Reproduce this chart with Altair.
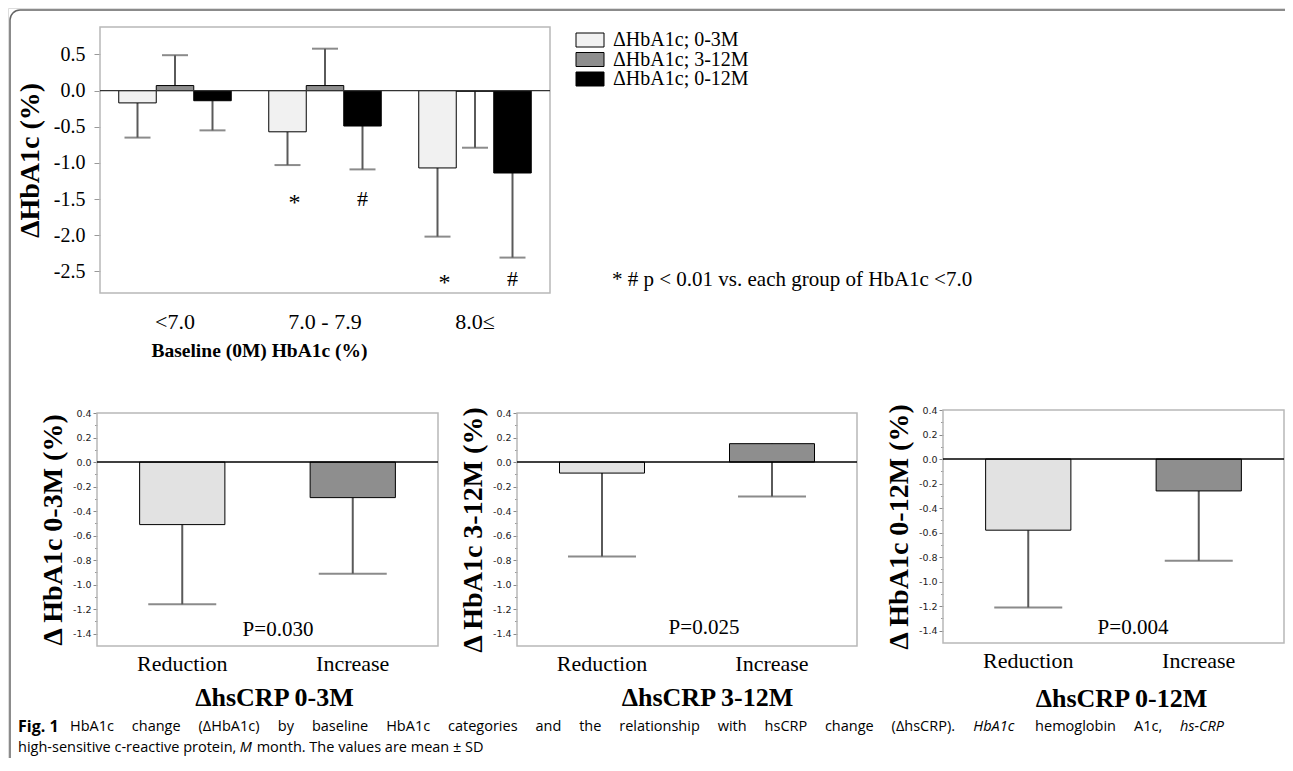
import altair as alt
import pandas as pd

# ---------------- values ----------------
baseline_groups = ["<7.0", "7.0 - 7.9", "8.0≤"]
periods = ["ΔHbA1c; 0-3M", "ΔHbA1c; 3-12M", "ΔHbA1c; 0-12M"]
mean_0_3 = [-0.17, -0.57, -1.07]
mean_3_12 = [0.07, 0.07, -0.01]
mean_0_12 = [-0.14, -0.49, -1.14]
sd_end_0_3 = [-0.65, -1.03, -2.02]
sd_end_3_12 = [0.49, 0.58, -0.79]
sd_end_0_12 = [-0.55, -1.09, -2.31]
top_y_ticks = [0.5, 0.0, -0.5, -1.0, -1.5, -2.0, -2.5]

sig_symbols = ["*", "#", "*", "#"]
sig_groups = ["7.0 - 7.9", "7.0 - 7.9", "8.0≤", "8.0≤"]
sig_periods = [periods[0], periods[2], periods[0], periods[2]]
sig_y = [-1.5, -1.5, -2.6, -2.6]
sig_note = "* # p < 0.01 vs. each group of HbA1c <7.0"

crp_groups = ["Reduction", "Increase"]
crp_mean_0_3 = [-0.51, -0.29]
crp_end_0_3 = [-1.16, -0.91]
crp_mean_3_12 = [-0.09, 0.15]
crp_end_3_12 = [-0.77, -0.28]
crp_mean_0_12 = [-0.58, -0.26]
crp_end_0_12 = [-1.21, -0.83]
crp_y_ticks = [0.4, 0.2, 0.0, -0.2, -0.4, -0.6, -0.8, -1.0, -1.2, -1.4]
crp_minor_ticks = [0.3, 0.1, -0.1, -0.3, -0.5, -0.7, -0.9, -1.1, -1.3]
p_labels = ["P=0.030", "P=0.025", "P=0.004"]
crp_y_titles = ["Δ HbA1c 0-3M (%)", "Δ HbA1c 3-12M (%)", "Δ HbA1c 0-12M (%)"]
crp_x_titles = ["ΔhsCRP 0-3M", "ΔhsCRP 3-12M", "ΔhsCRP 0-12M"]

caption_label = "Fig. 1"
caption_line1 = ["HbA1c", "change", "(ΔHbA1c)", "by", "baseline", "HbA1c", "categories", "and", "the",
                 "relationship", "with", "hsCRP", "change", "(ΔhsCRP).", "HbA1c", "hemoglobin", "A1c,", "hs-CRP"]
caption_line1_italic = [False] * 14 + [True, False, False, True]
caption_line2 = ["high-sensitive c-reactive protein,", "M", "month. The values are mean ± SD"]
caption_line2_italic = [False, True, False]

# ---------------- styling / layout ----------------
W, H = 1277, 750
SERIF = "Liberation Serif"
SANS = "Open Sans"
DOT_TOP, DOT, HATCH, BLACK = "#f1f1f1", "#e2e2e2", "#8e8e8e", "#000000"
ERR = "#5a5a5a"
FRAME = "#b8b8b8"
LABEL_EXPR = "(datum.value < 0 ? '-' : '') + format(abs(datum.value), '.1f')"


def px(v):
    return v - 8


one = pd.DataFrame({"v": [0]})

# ---------------- top chart ----------------
tL, tR, tT, tB = 100, 550, 27, 293
top_df = pd.DataFrame({
    "group": [g for g in baseline_groups for _ in periods],
    "period": periods * len(baseline_groups),
    "mean": [v for i in range(3) for v in (mean_0_3[i], mean_3_12[i], mean_0_12[i])],
    "end": [v for i in range(3) for v in (sd_end_0_3[i], sd_end_3_12[i], sd_end_0_12[i])],
})
sig_df = pd.DataFrame({"group": sig_groups, "period": sig_periods, "y": sig_y, "sym": sig_symbols})

x_top_axis = alt.Axis(orient="bottom", offset=px(tB) - H, domain=False, ticks=False,
                      labelFont=SERIF, labelFontSize=22, labelColor="black", labelPadding=18,
                      labelAngle=0, title="Baseline (0M) HbA1c (%)", titleFont=SERIF,
                      titleFontSize=19.5, titleFontWeight="bold", titleColor="black", titlePadding=9,
                      titleX=px(259))
x_top_scale = alt.Scale(domain=baseline_groups, range=[px(tL), px(tR)], paddingInner=0, paddingOuter=0)
xo_top = alt.XOffset("period:N", sort=periods,
                     scale=alt.Scale(domain=periods, paddingInner=0, paddingOuter=0.5))
y_top_scale = alt.Scale(domain=[-2.8, 0.88], range=[px(tB), px(tT)], nice=False, zero=False)
y_top_axis = alt.Axis(orient="left", offset=-px(tL), values=top_y_ticks, labelExpr=LABEL_EXPR,
                      labelFont=SERIF, labelFontSize=20, labelColor="black", tickSize=6,
                      tickColor="#999999", domain=False, grid=False, labelPadding=9,
                      title="ΔHbA1c (%)", titleFont=SERIF, titleFontSize=28,
                      titleFontWeight="bold", titleColor="black", titlePadding=9)


def xt():
    return alt.X("group:N", sort=baseline_groups, scale=x_top_scale, axis=x_top_axis)


def yt(field):
    return alt.Y(field, scale=y_top_scale, axis=y_top_axis)


top_err = alt.Chart(top_df).mark_rule(color=ERR, strokeWidth=2).encode(
    x=xt(), xOffset=xo_top, y=yt("mean:Q"), y2="end:Q")
top_cap = alt.Chart(top_df).mark_tick(color=ERR, thickness=2, size=26).encode(
    x=xt(), xOffset=xo_top, y=yt("end:Q"))
top_bar = alt.Chart(top_df).mark_bar(stroke="black", strokeWidth=1).encode(
    x=xt(), xOffset=xo_top, y=yt("mean:Q"), y2=alt.datum(0),
    fill=alt.Fill("period:N", scale=alt.Scale(domain=periods, range=[DOT_TOP, HATCH, BLACK]), legend=None))
top_zero = alt.Chart(one).mark_rule(color="#333333", strokeWidth=1.2).encode(
    y=yt("v:Q"), x=alt.value(px(tL)), x2=alt.value(px(tR)))
top_star = alt.Chart(sig_df).transform_filter(alt.datum.sym == "*").mark_text(
    font=SERIF, fontSize=24, color="black", baseline="middle", dx=7, dy=4).encode(
    x=xt(), xOffset=xo_top, y=yt("y:Q"), text="sym:N")
top_hash = alt.Chart(sig_df).transform_filter(alt.datum.sym == "#").mark_text(
    font=SERIF, fontSize=22, color="black", baseline="middle").encode(
    x=xt(), xOffset=xo_top, y=yt("y:Q"), text="sym:N")
top_frame = alt.Chart(one).mark_rect(fillOpacity=0, stroke=FRAME, strokeWidth=1.5).encode(
    x=alt.value(px(tL)), x2=alt.value(px(tR)), y=alt.value(px(tT)), y2=alt.value(px(tB)))
top_panel = alt.layer(top_frame, top_err, top_cap, top_bar, top_zero, top_star, top_hash)

# legend (drawn with its own point scale)
leg_df = pd.DataFrame({"period": periods})
leg_y = alt.Y("period:N", sort=periods, scale=alt.Scale(domain=periods, range=[px(40), px(79)], padding=0), axis=None)
leg_sym = alt.Chart(leg_df).mark_point(shape="M-1,-0.5H1V0.5H-1Z", size=784, filled=True, opacity=1,
                                       stroke="black", strokeWidth=1).encode(
    x=alt.value(px(590)), y=leg_y,
    fill=alt.Fill("period:N", scale=alt.Scale(domain=periods, range=[DOT_TOP, HATCH, BLACK]), legend=None))
leg_txt = alt.Chart(leg_df).mark_text(align="left", baseline="middle", font=SERIF, fontSize=20,
                                      color="black").encode(x=alt.value(px(613)), y=leg_y, text="period:N")
legend = alt.layer(leg_sym, leg_txt)

note = alt.Chart(one).mark_text(text=sig_note, align="left", baseline="middle", font=SERIF,
                                fontSize=21, color="black").encode(x=alt.value(px(612)), y=alt.value(px(280)))

# ---------------- bottom panels ----------------
panel_specs = [
    dict(means=crp_mean_0_3, ends=crp_end_0_3, L=97, R=438, T=413, B=646, px_=278, py=-1.37, tx=274, tp=10),
    dict(means=crp_mean_3_12, ends=crp_end_3_12, L=517, R=857, T=413, B=646, px_=704, py=-1.35, tx=707, tp=10),
    dict(means=crp_mean_0_12, ends=crp_end_0_12, L=943, R=1284, T=410, B=643, px_=1133, py=-1.38, tx=1121, tp=14),
]

panels = []
for i, sp in enumerate(panel_specs):
    df = pd.DataFrame({"group": crp_groups, "mean": sp["means"], "end": sp["ends"]})
    L, R, T, B = sp["L"], sp["R"], sp["T"], sp["B"]
    xs = alt.Scale(domain=crp_groups, range=[px(L), px(R)], paddingInner=0.5, paddingOuter=0.25)
    xa = alt.Axis(orient="bottom", offset=px(B) - H, domain=False, ticks=False, labelAngle=0,
                  labelFont=SERIF, labelFontSize=22, labelColor="black", labelPadding=7,
                  title=crp_x_titles[i], titleFont=SERIF, titleFontSize=26, titleFontWeight="bold",
                  titleColor="black", titlePadding=sp["tp"], titleX=px(sp["tx"]))
    ys = alt.Scale(domain=[-1.5, 0.4], range=[px(B), px(T)], nice=False, zero=False)
    ya = alt.Axis(orient="left", offset=-px(L), values=crp_y_ticks, labelExpr=LABEL_EXPR,
                  labelFont="DejaVu Sans", labelFontSize=9.5, labelColor="#222222", tickSize=4,
                  tickColor="#888888", domain=False, grid=False, labelPadding=2,
                  title=crp_y_titles[i], titleFont=SERIF, titleFontSize=28, titleFontWeight="bold",
                  titleColor="black", titlePadding=5)
    X = alt.X("group:N", sort=crp_groups, scale=xs, axis=xa)
    frame = alt.Chart(one).mark_rect(fillOpacity=0, stroke=FRAME, strokeWidth=1.5).encode(
        x=alt.value(px(L)), x2=alt.value(px(R)), y=alt.value(px(T)), y2=alt.value(px(B)))
    err = alt.Chart(df).mark_rule(color=ERR, strokeWidth=2).encode(
        x=X, y=alt.Y("mean:Q", scale=ys, axis=ya), y2="end:Q")
    cap = alt.Chart(df).mark_tick(color=ERR, thickness=2, size=68).encode(
        x=X, y=alt.Y("end:Q", scale=ys, axis=ya))
    bar = alt.Chart(df).mark_bar(stroke="black", strokeWidth=1).encode(
        x=X, y=alt.Y("mean:Q", scale=ys, axis=ya), y2=alt.datum(0),
        fill=alt.Fill("group:N", scale=alt.Scale(domain=crp_groups, range=[DOT, HATCH]), legend=None))
    zero = alt.Chart(one).mark_rule(color="black", strokeWidth=1.5).encode(
        y=alt.Y("v:Q", scale=ys, axis=ya), x=alt.value(px(L)), x2=alt.value(px(R)))
    ptxt = alt.Chart(pd.DataFrame({"p": [p_labels[i]], "y": [sp["py"]]})).mark_text(
        font=SERIF, fontSize=21, color="black", baseline="middle").encode(
        x=alt.value(px(sp["px_"])), y=alt.Y("y:Q", scale=ys, axis=ya), text="p:N")
    panels.append(alt.layer(frame, err, cap, bar, zero, ptxt))
    ys_minor = alt.Scale(domain=[-1.5, 0.4], range=[px(B), px(T)], nice=False, zero=False)
    minor = alt.Chart(one).mark_rule(opacity=0).encode(
        y=alt.Y("v:Q", scale=ys_minor,
                axis=alt.Axis(orient="left", offset=-px(L), values=crp_minor_ticks, labels=False,
                              tickSize=2.5, tickColor="#999999", domain=False, grid=False, title=None)))
    panels.append(minor)

# ---------------- outer frame + caption ----------------
outer = alt.Chart(one).mark_rect(fillOpacity=0, stroke="#666666", strokeWidth=1.5, cornerRadius=10).encode(
    x=alt.value(2), x2=alt.value(1300), y=alt.value(2), y2=alt.value(800))

# approximate Open Sans advance widths (em) used to justify the first caption line
_W = {' ': .26, 'a': .556, 'b': .613, 'c': .476, 'd': .613, 'e': .561, 'f': .339, 'g': .548, 'h': .614,
      'i': .253, 'k': .525, 'l': .253, 'm': .930, 'n': .614, 'o': .604, 'p': .613, 'r': .408, 's': .477,
      't': .353, 'u': .614, 'v': .501, 'w': .778, 'y': .501, 'A': .633, 'C': .631, 'H': .736, 'M': .903,
      'P': .586, 'R': .618, 'S': .543, 'T': .539, 'D': .722, '.': .266, ',': .244, '-': .322, '(': .293,
      ')': .293, 'Δ': .62, '±': .572}


def text_w(s, f):
    return sum(_W.get(ch, .572) for ch in s) * f


CAP_F = 14.5
line1_start, line1_end = 70, 1227
word_w = [text_w(w, CAP_F) for w in caption_line1]
gap = (line1_end - line1_start - sum(word_w)) / (len(caption_line1) - 1)
line1_x, cur = [], line1_start
for w in word_w:
    line1_x.append(cur)
    cur += w + gap
line2_x, cur = [], 18
for w in caption_line2:
    line2_x.append(cur)
    cur += text_w(w, CAP_F) + _W[' '] * CAP_F

cap_df = pd.DataFrame({
    "t": caption_line1 + caption_line2,
    "x": [px(v) for v in line1_x + line2_x],
    "y": [px(727)] * len(caption_line1) + [px(748)] * len(caption_line2),
    "it": caption_line1_italic + caption_line2_italic,
})


def cap_layer(italic):
    return alt.Chart(cap_df).transform_filter(alt.datum.it == italic).mark_text(
        align="left", baseline="middle", font=SANS, fontSize=CAP_F, color="black",
        fontStyle="italic" if italic else "normal").encode(
        x=alt.X("x:Q", scale=None), y=alt.Y("y:Q", scale=None), text="t:N")


cap_fig = alt.Chart(one).mark_text(text=caption_label, align="left", baseline="middle", font=SANS,
                                   fontSize=16, fontWeight="bold", color="black").encode(
    x=alt.value(px(18)), y=alt.value(px(727)))

chart = alt.layer(outer, top_panel, *panels, legend, note, cap_fig, cap_layer(False), cap_layer(True)).resolve_scale(
    x="independent", y="independent", fill="independent", xOffset="independent"
).properties(
    width=W, height=H, padding=0, autosize=alt.AutoSizeParams(type="none")
).configure_view(strokeOpacity=0).configure(background="white")

chart.save("out.html", embed_options={"renderer": "svg", "actions": False})
